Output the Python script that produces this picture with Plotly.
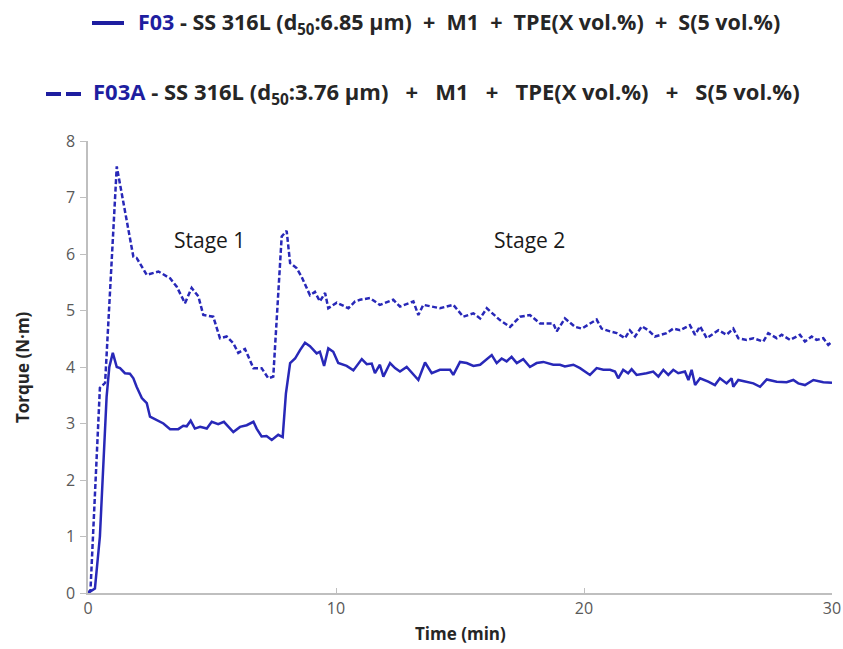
import plotly.graph_objects as go

# F03 (solid)
t_f03 = [0, 0.28, 0.48, 0.62, 0.75, 0.86, 1.0, 1.16, 1.29, 1.49, 1.69, 1.83, 1.96, 2.17, 2.37, 2.5, 2.77, 3.04, 3.31, 3.64,
         3.84, 3.98, 4.14, 4.31, 4.52, 4.79, 4.99, 5.25, 5.48, 5.66, 5.86, 6.13, 6.4, 6.67, 6.8, 7.0, 7.2, 7.41, 7.67, 7.85,
         7.98, 8.15, 8.35, 8.55, 8.75, 8.95, 9.22, 9.35, 9.52, 9.69, 9.89, 10.09, 10.43, 10.7, 11.04, 11.24, 11.44, 11.57,
         11.77, 11.91, 12.18, 12.38, 12.58, 12.85, 13.32, 13.59, 13.86, 14.19, 14.6, 14.73, 15.0, 15.27, 15.54, 15.81,
         16.28, 16.48, 16.68, 16.88, 17.08, 17.29, 17.55, 17.82, 18.09, 18.36, 18.76, 19.03, 19.23, 19.57, 19.84, 20.24,
         20.51, 20.78, 21.05, 21.25, 21.38, 21.58, 21.78, 21.92, 22.12, 22.52, 22.79, 23.0, 23.2, 23.4, 23.6, 23.8, 24.07,
         24.21, 24.34, 24.48, 24.68, 25.01, 25.28, 25.48, 25.75, 25.95, 26.02, 26.22, 26.56, 26.83, 27.1, 27.37, 27.77,
         28.17, 28.44, 28.64, 28.91, 29.25, 29.65, 30.0]
v_f03 = [0, 0.08, 1.0, 2.3, 3.47, 4.0, 4.25, 4.0, 3.98, 3.89, 3.88, 3.80, 3.65, 3.45, 3.36, 3.12, 3.06, 3.0, 2.90, 2.90,
         2.96, 2.95, 3.05, 2.91, 2.94, 2.91, 3.03, 2.99, 3.03, 2.94, 2.85, 2.94, 2.97, 3.03, 2.91, 2.77, 2.78, 2.71, 2.80, 2.76,
         3.53, 4.07, 4.15, 4.30, 4.43, 4.37, 4.24, 4.27, 4.02, 4.33, 4.27, 4.07, 4.02, 3.94, 4.14, 4.05, 4.06, 3.89,
         4.04, 3.83, 4.07, 3.98, 3.92, 4.0, 3.77, 4.08, 3.89, 3.95, 3.95, 3.86, 4.09, 4.07, 4.02, 4.04,
         4.21, 4.07, 4.15, 4.10, 4.18, 4.07, 4.14, 4.0, 4.07, 4.09, 4.04, 4.04, 4.01, 4.04, 3.98, 3.86,
         3.98, 3.95, 3.95, 3.92, 3.80, 3.95, 3.89, 3.96, 3.86, 3.89, 3.92, 3.83, 3.95, 3.86, 3.95, 3.89, 3.92,
         3.77, 3.95, 3.68, 3.80, 3.74, 3.68, 3.80, 3.71, 3.80, 3.65, 3.77, 3.74, 3.71, 3.65, 3.78, 3.74,
         3.73, 3.77, 3.71, 3.68, 3.77, 3.73, 3.72]

# F03A (dashed)
t_f03a = [0, 0.1, 0.48, 0.69, 1.16, 1.21, 1.83, 1.96, 2.37, 2.84, 3.31, 3.58, 3.91, 4.18, 4.45, 4.65, 5.05, 5.32, 5.59,
          5.86, 6.06, 6.33, 6.67, 7.0, 7.27, 7.47, 7.81, 8.01, 8.15, 8.41, 8.61, 8.95, 9.15, 9.35, 9.56, 9.69, 10.03, 10.5,
          10.77, 10.97, 11.37, 11.77, 12.31, 12.58, 13.12, 13.32, 13.52, 14.19, 14.73, 15.13, 15.54, 15.81, 16.08, 16.61,
          17.02, 17.42, 17.82, 18.23, 18.76, 18.9, 19.23, 19.64, 19.91, 20.51, 20.71, 21.05, 21.32, 21.65, 21.85, 22.06,
          22.33, 22.59, 22.86, 23.33, 23.6, 23.87, 24.27, 24.48, 24.68, 24.95, 25.42, 25.75, 26.02, 26.22, 26.56, 26.83,
          27.23, 27.43, 27.77, 27.97, 28.31, 28.71, 28.91, 29.18, 29.38, 29.65, 29.85, 30.0]
v_f03a = [0, 0.05, 3.63, 3.72, 7.55, 7.43, 5.95, 5.93, 5.63, 5.69, 5.57, 5.42, 5.13, 5.40, 5.25, 4.92, 4.89, 4.51, 4.54,
          4.42, 4.25, 4.32, 3.98, 3.98, 3.80, 3.83, 6.31, 6.41, 5.84, 5.75, 5.60, 5.27, 5.33, 5.16, 5.31, 5.04, 5.14, 5.04,
          5.16, 5.19, 5.22, 5.10, 5.19, 5.07, 5.16, 4.92, 5.10, 5.04, 5.10, 4.89, 4.95, 4.86, 5.04, 4.83,
          4.71, 4.89, 4.92, 4.77, 4.77, 4.63, 4.86, 4.71, 4.68, 4.84, 4.68, 4.63, 4.60, 4.51, 4.65, 4.54,
          4.72, 4.65, 4.54, 4.60, 4.68, 4.65, 4.74, 4.57, 4.72, 4.51, 4.65, 4.57, 4.68, 4.51, 4.48, 4.51,
          4.45, 4.60, 4.51, 4.57, 4.48, 4.57, 4.45, 4.54, 4.48, 4.51, 4.39, 4.45]

x_ticks = [0, 10, 20, 30]
y_ticks = [0, 1, 2, 3, 4, 5, 6, 7, 8]

LINE = "#2828B8"
LEG = "#1E1EA0"
FONT = "Open Sans"

fig = go.Figure()
fig.add_trace(go.Scatter(x=t_f03, y=v_f03, mode="lines", name="F03",
                         line=dict(color=LINE, width=2.5), showlegend=False))
fig.add_trace(go.Scatter(x=t_f03a, y=v_f03a, mode="lines", name="F03A",
                         line=dict(color=LINE, width=2.5, dash="5px,2.5px"), showlegend=False))

fig.update_layout(
    width=843, height=649,
    margin=dict(l=88, r=11, t=141, b=56),
    paper_bgcolor="white", plot_bgcolor="white",
    font=dict(family=FONT, color="#404040"),
    xaxis=dict(range=[0, 30], tickvals=x_ticks, showgrid=False, zeroline=False, automargin=False,
               showline=True, linecolor="#BFBFBF", linewidth=1.5,
               ticks="inside", ticklen=5, tickcolor="#BFBFBF",
               tickfont=dict(size=16, color="#595959", family=FONT)),
    yaxis=dict(range=[0, 8], tickvals=y_ticks, showgrid=False, zeroline=False, automargin=False,
               showline=True, linecolor="#BFBFBF", linewidth=1.5,
               ticks="outside", ticklen=6, tickcolor="#BFBFBF", ticklabelstandoff=2,
               tickfont=dict(size=16, color="#595959", family=FONT)),
)

PW, PH = 744.0, 452.0
def fx(xp): return (xp - 88) / PW
def fy(yp): return (593 - yp) / PH

# Axis titles
fig.add_annotation(xref="paper", yref="paper", x=fx(460), y=fy(633), text="<b>Time (min)</b>", showarrow=False,
                   xanchor="center", yanchor="middle", font=dict(size=17, color="#262626", family=FONT))
fig.add_annotation(xref="paper", yref="paper", x=fx(22), y=fy(367), text="<b>Torque (N·m)</b>", showarrow=False,
                   textangle=-90, xanchor="center", yanchor="middle", font=dict(size=17, color="#262626", family=FONT))

# Stage annotations
fig.add_annotation(x=4.9, y=6.25, xref="x", yref="y", text="Stage 1", showarrow=False,
                   font=dict(size=21, color="#1a1a1a", family=FONT))
fig.add_annotation(x=17.8, y=6.25, xref="x", yref="y", text="Stage 2", showarrow=False,
                   font=dict(size=21, color="#1a1a1a", family=FONT))

# Legend (drawn as decoration)
fig.add_shape(type="line", xref="paper", yref="paper", x0=fx(92), x1=fx(124),
              y0=fy(23), y1=fy(23), line=dict(color=LEG, width=4))
for a, b in [(46, 61), (66, 81)]:
    fig.add_shape(type="line", xref="paper", yref="paper", x0=fx(a), x1=fx(b),
                  y0=fy(94), y1=fy(94), line=dict(color=LEG, width=4))

sp2 = "&nbsp;&nbsp;"
sp3 = "&nbsp;&nbsp;&nbsp;"
lab1 = ("<b><span style='color:%s'>F03</span> - SS 316L (d<sub>50</sub>:6.85 µm)%s+%sM1%s+%sTPE(X vol.%%)%s+%sS(5 vol.%%)</b>"
        % (LEG, sp2, sp2, sp2, sp2, sp2, sp2))
lab2 = ("<b><span style='color:%s'>F03A</span> - SS 316L (d<sub>50</sub>:3.76 µm)%s+%sM1%s+%sTPE(X vol.%%)%s+%sS(5 vol.%%)</b>"
        % (LEG, sp3, sp3, sp3, sp3, sp3, sp3))
fig.add_annotation(xref="paper", yref="paper", x=fx(136), y=fy(23), xanchor="left", yanchor="middle",
                   text=lab1, showarrow=False, font=dict(size=21.5, color="#262626", family=FONT))
fig.add_annotation(xref="paper", yref="paper", x=fx(91), y=fy(93), xanchor="left", yanchor="middle",
                   text=lab2, showarrow=False, font=dict(size=22, color="#262626", family=FONT))

fig.write_html("out.html")
